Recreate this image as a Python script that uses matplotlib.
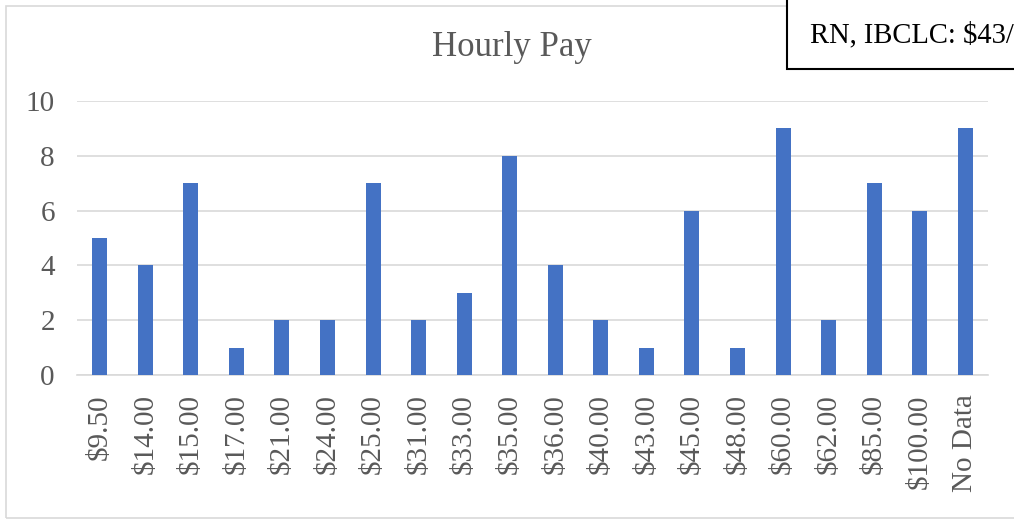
import matplotlib.pyplot as plt
from matplotlib.patches import Rectangle

plt.rcParams['font.family'] = ['Liberation Serif', 'DejaVu Serif']

labels = ['$9.50', '$14.00', '$15.00', '$17.00', '$21.00', '$24.00', '$25.00',
          '$31.00', '$33.00', '$35.00', '$36.00', '$40.00', '$43.00', '$45.00',
          '$48.00', '$60.00', '$62.00', '$85.00', '$100.00', 'No Data']
counts = [5, 4, 7, 1, 2, 2, 7, 2, 3, 8, 4, 2, 1, 6, 1, 9, 2, 7, 6, 9]

W, H = 1014, 524
fig = plt.figure(figsize=(W / 100, H / 100), dpi=100)

# chart border (Excel style)
fig.add_artist(Rectangle((6 / W, 6 / H), 1.2, (518 - 6) / H, transform=fig.transFigure,
                         fill=False, edgecolor='#d9d9d9', lw=1.2))

ax = fig.add_axes([77 / W, (H - 375) / H, (988 - 77) / W, (375 - 101) / H])
x = range(len(labels))
ax.bar(x, counts, width=0.33, color='#4472c4', zorder=3)
ax.set_xlim(-0.5, len(labels) - 0.5)
ax.set_ylim(0, 10)
ax.set_yticks([0, 2, 4, 6, 8, 10])
ax.yaxis.grid(True, color='#d9d9d9', lw=1.2, zorder=0)
for s in ['top', 'right', 'left']:
    ax.spines[s].set_visible(False)
ax.spines['bottom'].set_color('#d9d9d9')
ax.spines['bottom'].set_linewidth(1.2)
ax.set_xticks(list(x))
ax.set_xticklabels(labels, rotation=90, fontsize=21, color='#595959')
ax.tick_params(axis='x', length=0, pad=14)
ax.tick_params(axis='y', length=0, pad=16, labelsize=21, labelcolor='#595959')

fig.text(512 / W, 1 - 48 / H, 'Hourly Pay', ha='center', va='center',
         fontsize=25, color='#595959')

# annotation box at top right, running off the edge as in the original
fig.add_artist(Rectangle((787 / W, 1 - 69 / H), 0.5, 0.5, transform=fig.transFigure,
                         fill=True, facecolor='white', edgecolor='black', lw=1.5, zorder=5))
fig.text(810 / W, 1 - 35 / H, 'RN, IBCLC: $43/', ha='left', va='center',
         fontsize=20.6, color='black', zorder=6)

fig.savefig('out.png', dpi=100)
